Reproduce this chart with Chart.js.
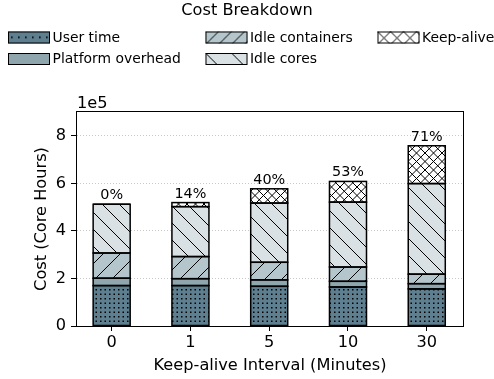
<!DOCTYPE html>
<html>
<head>
<meta charset="utf-8">
<script src="https://cdn.jsdelivr.net/npm/chart.js@4.4.1/dist/chart.umd.min.js"></script>
<style>
  html, body { margin: 0; padding: 0; background: #fff; }
  canvas { display: block; }
</style>
</head>
<body>
<canvas id="cost" width="494" height="379"></canvas>
<script>
// Keep-alive intervals (minutes) and cost components in core hours
const intervals = ['0', '1', '5', '10', '30'];
const userTime = [170000, 170000, 167000, 164000, 156000];
const platformOverhead = [31000, 29000, 27000, 24000, 22000];
const idleContainers = [106000, 93000, 74000, 60000, 40000];
const idleCores = [205000, 210000, 249000, 273000, 381000];
const keepAlive = [0, 17000, 60000, 87000, 159000];
const keepAliveShare = ['0%', '14%', '40%', '53%', '71%'];
const yTickValues = [0, 200000, 400000, 600000, 800000];

const FONT = 'DejaVu Sans';
const FS_AXIS = 16.2;   // ticks, axis titles, figure title
const FS_SMALL = 13.9;  // legend
const FS_SHARE = 14.4;  // share labels above bars

// ---- hatch fills -------------------------------------------------------
function makePattern(w, h, bg, draw) {
  const c = document.createElement('canvas');
  c.width = w; c.height = h;
  const g = c.getContext('2d');
  g.fillStyle = bg;
  g.fillRect(0, 0, w, h);
  g.strokeStyle = '#000';
  g.fillStyle = '#000';
  g.lineWidth = 1;
  draw(g, w, h);
  return g.createPattern(c, 'repeat');
}
function forward(g, size, step) {      // "/" lines
  g.beginPath();
  for (let c = 0; c <= 2 * size + 0.01; c += step) {
    g.moveTo(c, 0); g.lineTo(c - size, size);
  }
  g.stroke();
}
function backward(g, size, step) {     // "\" lines
  g.beginPath();
  for (let c = -size; c <= size + 0.01; c += step) {
    g.moveTo(c, 0); g.lineTo(c + size, size);
  }
  g.stroke();
}
function dots(g, xs, ys, d) {
  ys.forEach(y => xs.forEach(x => g.fillRect(x, y, d, d)));
}

const COL_USER = '#5e7f8f';
const COL_OVER = '#8fa6af';
const COL_CONT = '#b4c6cb';
const COL_CORE = '#d9e1e4';
const COL_KEEP = '#ffffff';

const fillUser = makePattern(9, 9, COL_USER, g => dots(g, [1, 5.5], [1, 5.5], 1.5));
const fillCont = makePattern(17, 17, COL_CONT, (g, s) => forward(g, s, 17));
const fillCore = makePattern(17, 17, COL_CORE, (g, s) => backward(g, s, 17));
const fillKeep = makePattern(17, 17, COL_KEEP, (g, s) => { forward(g, s, 8.5); backward(g, s, 8.5); });

const legUser = makePattern(7, 12, COL_USER, g => dots(g, [3], [5], 1.6));
const legCont = makePattern(13, 13, COL_CONT, (g, s) => forward(g, s, 13));
const legCore = makePattern(26, 26, COL_CORE, (g, s) => backward(g, s, 26));
const legKeep = makePattern(13, 13, COL_KEEP, (g, s) => { forward(g, s, 13); backward(g, s, 13); });

function series(label, values, fill) {
  return {
    label,
    data: values.map((v, i) => ({ x: i, y: v })),
    backgroundColor: fill,
    borderWidth: 0,
    inflateAmount: 0,
    barPercentage: 0.47,
    categoryPercentage: 1
  };
}

const legendItems = [
  { text: 'User time', fill: legUser, col: 0, row: 0 },
  { text: 'Platform overhead', fill: COL_OVER, col: 0, row: 1 },
  { text: 'Idle containers', fill: legCont, col: 1, row: 0 },
  { text: 'Idle cores', fill: legCore, col: 1, row: 1 },
  { text: 'Keep-alive', fill: legKeep, col: 2, row: 0 }
];

// Title, legend, frame, segment edges, offset label and share labels
const decorations = {
  id: 'decorations',
  afterDatasetsDraw(chart) {
    const ctx = chart.ctx;
    const a = chart.chartArea;
    const last = chart.data.datasets.length - 1;
    const topMeta = chart.getDatasetMeta(last);
    ctx.save();
    ctx.setLineDash([]);

    // centred black edge around every stacked segment
    ctx.strokeStyle = '#000';
    ctx.lineWidth = 1.5;
    for (let d = 0; d <= last; d++) {
      chart.getDatasetMeta(d).data.forEach(el => {
        const w = el.width;
        const y0 = Math.min(el.y, el.base), y1 = Math.max(el.y, el.base);
        ctx.strokeRect(el.x - w / 2, y0, w, y1 - y0);
      });
    }

    // frame
    ctx.lineWidth = 1;
    const l = Math.round(a.left), r = Math.round(a.right), t = Math.round(a.top), b = Math.round(a.bottom);
    ctx.strokeRect(l - 0.5, t - 0.5, r - l + 1, b - t + 1);

    ctx.fillStyle = '#000';

    // share of keep-alive above each bar
    ctx.font = `${FS_SHARE}px "${FONT}"`;
    ctx.textAlign = 'center';
    ctx.textBaseline = 'alphabetic';
    topMeta.data.forEach((el, i) => {
      ctx.fillText(keepAliveShare[i], el.x, el.y - 5);
    });

    // axis multiplier
    ctx.font = `${FS_AXIS}px "${FONT}"`;
    ctx.textAlign = 'left';
    ctx.fillText('1e5', a.left, a.top - 4.5);

    // title
    ctx.textAlign = 'center';
    ctx.textBaseline = 'middle';
    ctx.fillText('Cost Breakdown', chart.width / 2, 11);

    // legend
    ctx.font = `${FS_SMALL}px "${FONT}"`;
    const colX = [8, 205.5, 377.5];
    const rowY = [31.5, 53];
    const bw = 42, bh = 12;
    ctx.textAlign = 'left';
    legendItems.forEach(it => {
      const x = colX[it.col], y = rowY[it.row];
      ctx.save();
      ctx.translate(x, y);
      ctx.fillStyle = it.fill;
      ctx.fillRect(0, 0, bw, bh);
      ctx.strokeStyle = '#000';
      ctx.lineWidth = 1;
      ctx.strokeRect(0.5, 0.5, bw - 1, bh - 1);
      ctx.restore();
      ctx.fillStyle = '#000';
      ctx.fillText(it.text, x + bw + 2.5, y + bh / 2 + 0.5);
    });
    ctx.restore();
  }
};

new Chart(document.getElementById('cost'), {
  type: 'bar',
  data: {
    datasets: [
      series('User time', userTime, fillUser),
      series('Platform overhead', platformOverhead, COL_OVER),
      series('Idle containers', idleContainers, fillCont),
      series('Idle cores', idleCores, fillCore),
      series('Keep-alive', keepAlive, fillKeep)
    ]
  },
  options: {
    responsive: false,
    animation: false,
    devicePixelRatio: 1,
    layout: { padding: { top: 112, right: 31, left: 0, bottom: 0 } },
    plugins: {
      legend: { display: false },
      title: { display: false },
      tooltip: { enabled: false }
    },
    scales: {
      x: {
        type: 'linear',
        min: -0.44,
        max: 4.46,
        stacked: true,
        offset: false,
        afterBuildTicks: s => { s.ticks = intervals.map((_, i) => ({ value: i })); },
        afterFit: s => { s.height = 53; },
        ticks: {
          callback: (v, i) => intervals[i],
          color: '#000',
          padding: 2,
          maxRotation: 0,
          font: { family: FONT, size: FS_AXIS }
        },
        grid: {
          offset: false,
          drawOnChartArea: false,
          drawTicks: true,
          tickLength: 5,
          tickColor: '#000',
          tickWidth: 1
        },
        border: { display: false },
        title: {
          display: true,
          text: 'Keep-alive Interval (Minutes)',
          color: '#000',
          font: { family: FONT, size: FS_AXIS },
          padding: { top: 0, bottom: 3 }
        }
      },
      y: {
        stacked: true,
        min: 0,
        max: 900000,
        afterBuildTicks: s => { s.ticks = yTickValues.map(v => ({ value: v })); },
        afterFit: s => { s.width = 77; },
        ticks: {
          callback: v => String(v / 100000),
          color: '#000',
          padding: 5,
          font: { family: FONT, size: FS_AXIS }
        },
        grid: {
          color: c => (c.tick && c.tick.value === 0) ? 'rgba(0,0,0,0)' : '#c8c8c8',
          lineWidth: 1,
          tickColor: '#000',
          tickLength: 6,
          tickWidth: 1,
          tickBorderDash: []
        },
        border: { display: false, dash: [1, 2] },
        title: {
          display: true,
          text: 'Cost (Core Hours)',
          color: '#000',
          font: { family: FONT, size: FS_AXIS },
          padding: { top: 32.4, bottom: 0 }
        }
      }
    }
  },
  plugins: [decorations]
});
</script>
</body>
</html>
